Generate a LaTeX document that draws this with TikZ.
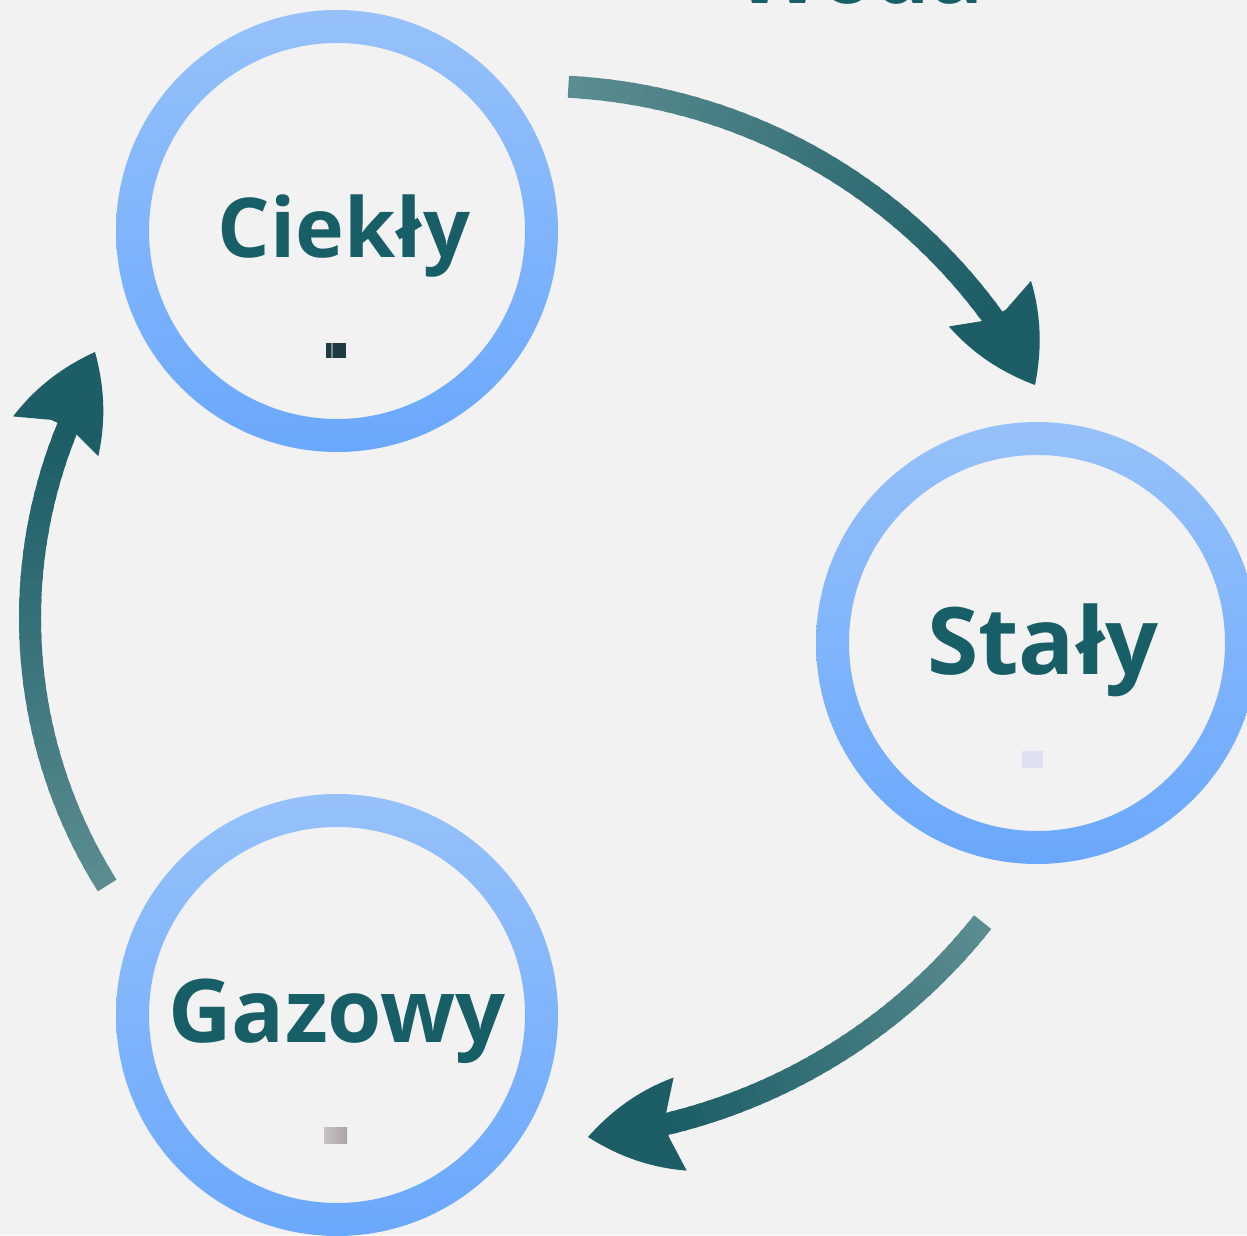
\documentclass[tikz,border=0pt]{standalone}
\usepackage{fontspec}
\setmainfont{Open Sans}
\usetikzlibrary{calc}
\definecolor{bg}{HTML}{F2F2F2}
\definecolor{ringtop}{HTML}{96C1FA}
\definecolor{ringbot}{HTML}{6AA8FD}
\definecolor{txt}{HTML}{175E66}
\definecolor{tailc}{HTML}{5B8D90}
\definecolor{headc}{HTML}{1C5D66}
\definecolor{phdark}{RGB}{32,58,66}
\definecolor{phstripe}{RGB}{120,140,150}
\definecolor{phlav}{RGB}{221,224,240}
\definecolor{phgreyA}{RGB}{200,194,194}
\definecolor{phgreyB}{RGB}{172,164,164}
\tikzset{
  lbl/.style={font=\bfseries\fontsize{#1}{60}\selectfont, text=txt, anchor=base, inner sep=0pt},
  lbl/.default=50,
  ringnode/.style={circle, minimum size=8.84cm, inner sep=0pt},
  ringfill/.style={top color=ringtop, bottom color=ringbot, even odd rule},
  imgph/.style={rectangle, inner sep=0pt, draw=none},
}
% gradient arc: #1 centre, #2 radius, #3 start angle, #4 end angle
\newcommand\gradarc[4]{%
  \foreach \i in {0,...,39}{%
    \pgfmathsetmacro\aa{#3+(#4-#3)*\i/40}%
    \pgfmathsetmacro\ab{#3+(#4-#3)*(\i+1.4)/40}%
    \pgfmathtruncatemacro\pc{100-100*\i/39}%
    \draw[line width=0.44cm, draw=tailc!\pc!headc] ($(#1)+(\aa:#2)$) arc[start angle=\aa, end angle=\ab, radius=#2];
  }}
% arrow head: tip coordinate name, rotation
\newcommand\headat[2]{%
  \fill[headc, shift={(#1)}, rotate=#2] (0,0) .. controls (-27,-23) and (-57,-39) .. (-93,-47)
     -- (-80,-11) -- (-80,11) -- (-93,47) .. controls (-57,39) and (-27,23) .. (0,0) -- cycle;}
\begin{document}
\begin{tikzpicture}[x=0.02cm, y=0.02cm]
\useasboundingbox (0,0) rectangle (1247,1235);
\fill[bg] (0,0) rectangle (1247,1235);
\clip (0,0) rectangle (1247,1235);

% state circles
\node[ringnode] (liq) at (337,1004) {};
\node[ringnode] (sol) at (1037,592) {};
\node[ringnode] (gas) at (337,220) {};
\foreach \n in {liq,sol,gas}
  \shade[ringfill] (\n.center) circle[radius=221] (\n.center) circle[radius=188];

% labels
\node[lbl] (title) at (860,1231) {Woda};
\node[lbl=47] (tliq) at (344,977) {Ciekły};
\node[lbl=53] (tsol) at (1043,561) {Stały};
\node[lbl] (tgas) at (337,193) {Gazowy};

% small image placeholders
\node[imgph, fill=phdark, minimum width=0.4cm, minimum height=0.3cm] (iliq) at (336,884.5) {};
\fill[phstripe] (331,877) rectangle (333,892);
\node[imgph, fill=phlav, minimum width=0.42cm, minimum height=0.34cm] (isol) at (1032.5,475.5) {};
\node[imgph, left color=phgreyA, right color=phgreyB, minimum width=0.46cm, minimum height=0.32cm] (igas) at (335.5,100) {};

% arc centres and tips
\coordinate (c1) at (539,588);
\coordinate (c2) at (532,670);
\coordinate (c3) at (532,617);
\coordinate (tip1) at (1035,850);
\coordinate (tip2) at (588,98);
\coordinate (tip3) at (95,883);

% liquid -> solid
\gradarc{c1}{561}{87}{36}
\headat{tip1}{-61}
% solid -> gas
\gradarc{c2}{575}{-38.4}{-76.5}
\headat{tip2}{-172}
% gas -> liquid
\gradarc{c3}{502}{212.2}{158}
\headat{tip3}{65}
\end{tikzpicture}
\end{document}
